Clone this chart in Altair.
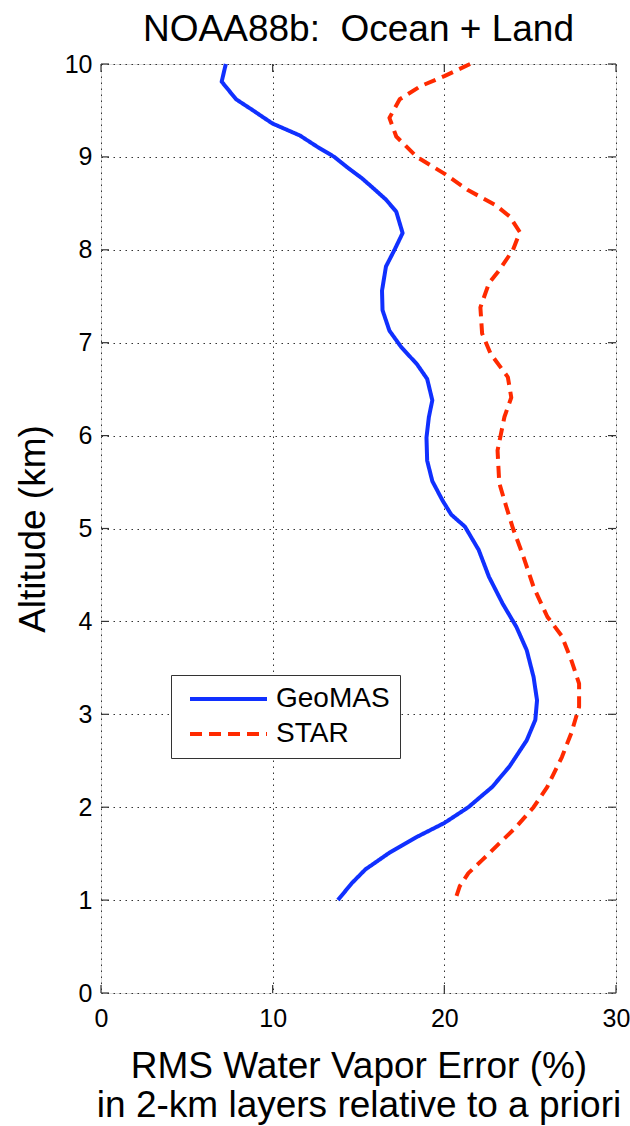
import altair as alt
import pandas as pd

# ---- data ----
GEO_ALT = [10.0, 9.81, 9.62, 9.51, 9.36, 9.23, 9.11, 9.00, 8.88, 8.77, 8.64, 8.54, 8.41,
           8.18, 8.00, 7.82, 7.56, 7.35, 7.13, 6.95, 6.77, 6.61, 6.38, 6.20, 5.98, 5.73,
           5.51, 5.30, 5.15, 5.02, 4.77, 4.48, 4.19, 3.94, 3.69, 3.40, 3.15, 2.94, 2.72,
           2.44, 2.22, 2.00, 1.83, 1.68, 1.51, 1.33, 1.18, 1.00]
GEO_ERR = [7.27, 7.03, 7.87, 8.78, 9.98, 11.59, 12.59, 13.59, 14.4, 15.2, 16.0, 16.6, 17.2,
           17.57, 17.1, 16.6, 16.37, 16.4, 16.8, 17.5, 18.4, 19.0, 19.3, 19.1, 18.96, 19.0,
           19.3, 19.9, 20.4, 21.2, 22.0, 22.6, 23.4, 24.2, 24.8, 25.2, 25.4, 25.3, 24.8,
           23.8, 22.8, 21.4, 20.0, 18.4, 16.8, 15.4, 14.6, 13.8]

STAR_ALT = [10.0, 9.87, 9.76, 9.62, 9.42, 9.22, 9.00, 8.82, 8.64, 8.48, 8.36, 8.19, 8.00,
            7.78, 7.64, 7.38, 7.10, 6.88, 6.63, 6.41, 6.20, 5.84, 5.49, 5.24, 5.00, 4.70,
            4.37, 4.05, 3.84, 3.58, 3.33, 3.08, 2.80, 2.54, 2.22, 2.00, 1.79, 1.61, 1.43,
            1.29, 1.15, 1.04]
STAR_ERR = [21.5, 20.0, 18.6, 17.4, 16.8, 17.2, 18.4, 20.0, 21.4, 23.0, 23.8, 24.4, 24.0,
            23.2, 22.6, 22.1, 22.2, 22.7, 23.7, 23.9, 23.5, 23.1, 23.2, 23.6, 24.0, 24.6,
            25.2, 26.0, 26.85, 27.4, 27.85, 27.85, 27.4, 26.85, 26.0, 25.2, 24.2, 23.2, 22.2,
            21.4, 20.9, 20.7]

SERIES = ["GeoMAS", "STAR"]
COLORS = ["#1030FF", "#FF2A00"]
DASHES = [[1, 0], [12, 7]]
X_TICKS = [0, 10, 20, 30]
Y_TICKS = [0, 1, 2, 3, 4, 5, 6, 7, 8, 9, 10]
TITLE = "NOAA88b:\u00a0 Ocean + Land"
X_TITLE = ["RMS Water Vapor Error (%)", "in 2-km layers relative to a priori"]
Y_TITLE = "Altitude (km)"

W, H = 515, 929
FONT = "Liberation Sans"

rows = []
for i, (a, e) in enumerate(zip(GEO_ALT, GEO_ERR)):
    rows.append({"series": SERIES[0], "alt": a, "err": e, "i": i})
for i, (a, e) in enumerate(zip(STAR_ALT, STAR_ERR)):
    rows.append({"series": SERIES[1], "alt": a, "err": e, "i": i})
df = pd.DataFrame(rows)

xscale = alt.Scale(domain=[0, 30], nice=False, zero=False)
yscale = alt.Scale(domain=[0, 10], nice=False, zero=False)

grid_dash = [1.5, 4.5]


def legend():
    return alt.Legend(title=None, orient="none", legendX=70, legendY=611,
                      symbolType="M-0.5,0L7.2,0", symbolSize=400, symbolStrokeWidth=4,
                      labelFontSize=28, labelFont=FONT, labelColor="black",
                      labelOffset=67, padding=10, rowPadding=7, labelLimit=300,
                      strokeColor="#333", fillColor="white")


lines = alt.Chart(df).mark_line(strokeWidth=4, strokeCap="butt", strokeJoin="round").encode(
    x=alt.X("err:Q", scale=xscale,
            axis=alt.Axis(values=X_TICKS, title=X_TITLE, grid=True, ticks=False, tickSize=0,
                          domain=False, labelFontSize=25, labelPadding=13, labelColor="black",
                          labelFont=FONT, titleFont=FONT, titleFontSize=37, titleFontWeight="normal",
                          titleColor="black", titlePadding=17, titleLineHeight=39,
                          gridColor="#333", gridDash=grid_dash, gridWidth=1, gridOpacity=1,
                          labelFlush=False, format="d")),
    y=alt.Y("alt:Q", scale=yscale,
            axis=alt.Axis(values=Y_TICKS, title=Y_TITLE, grid=True, ticks=False, tickSize=0,
                          domain=False, labelFontSize=25, labelPadding=9, labelColor="black",
                          labelFont=FONT, titleFont=FONT, titleFontSize=37, titleFontWeight="normal",
                          titleColor="black", titlePadding=12,
                          gridColor="#333", gridDash=grid_dash, gridWidth=1, gridOpacity=1,
                          labelFlush=False, format="d")),
    color=alt.Color("series:N", scale=alt.Scale(domain=SERIES, range=COLORS), legend=legend()),
    strokeDash=alt.StrokeDash("series:N", scale=alt.Scale(domain=SERIES, range=DASHES),
                              legend=legend()),
    order="i:Q",
)

TL = 8
xt = pd.DataFrame({"x": X_TICKS})
yt = pd.DataFrame({"y": Y_TICKS})
tick_style = dict(color="#333", strokeWidth=1.2)
xb = alt.Chart(xt).mark_rule(**tick_style).encode(
    x=alt.X("x:Q", scale=xscale), y=alt.value(H), y2=alt.value(H - TL))
xtop = alt.Chart(xt).mark_rule(**tick_style).encode(
    x=alt.X("x:Q", scale=xscale), y=alt.value(0), y2=alt.value(TL))
yl = alt.Chart(yt).mark_rule(**tick_style).encode(
    y=alt.Y("y:Q", scale=yscale), x=alt.value(0), x2=alt.value(TL))
yr = alt.Chart(yt).mark_rule(**tick_style).encode(
    y=alt.Y("y:Q", scale=yscale), x=alt.value(W), x2=alt.value(W - TL))

chart = alt.layer(lines, xb, xtop, yl, yr).properties(
    width=W, height=H,
    title=alt.TitleParams(TITLE, fontSize=37, font=FONT, fontWeight="normal", color="black",
                          anchor="middle", offset=3),
    autosize=alt.AutoSizeParams(type="none"),
    padding={"left": 101, "top": 64, "right": 14, "bottom": 133},
).configure_view(stroke="#333", strokeWidth=1.5).configure(background="white")

chart.save("out.html", embed_options={"renderer": "svg", "actions": False})
